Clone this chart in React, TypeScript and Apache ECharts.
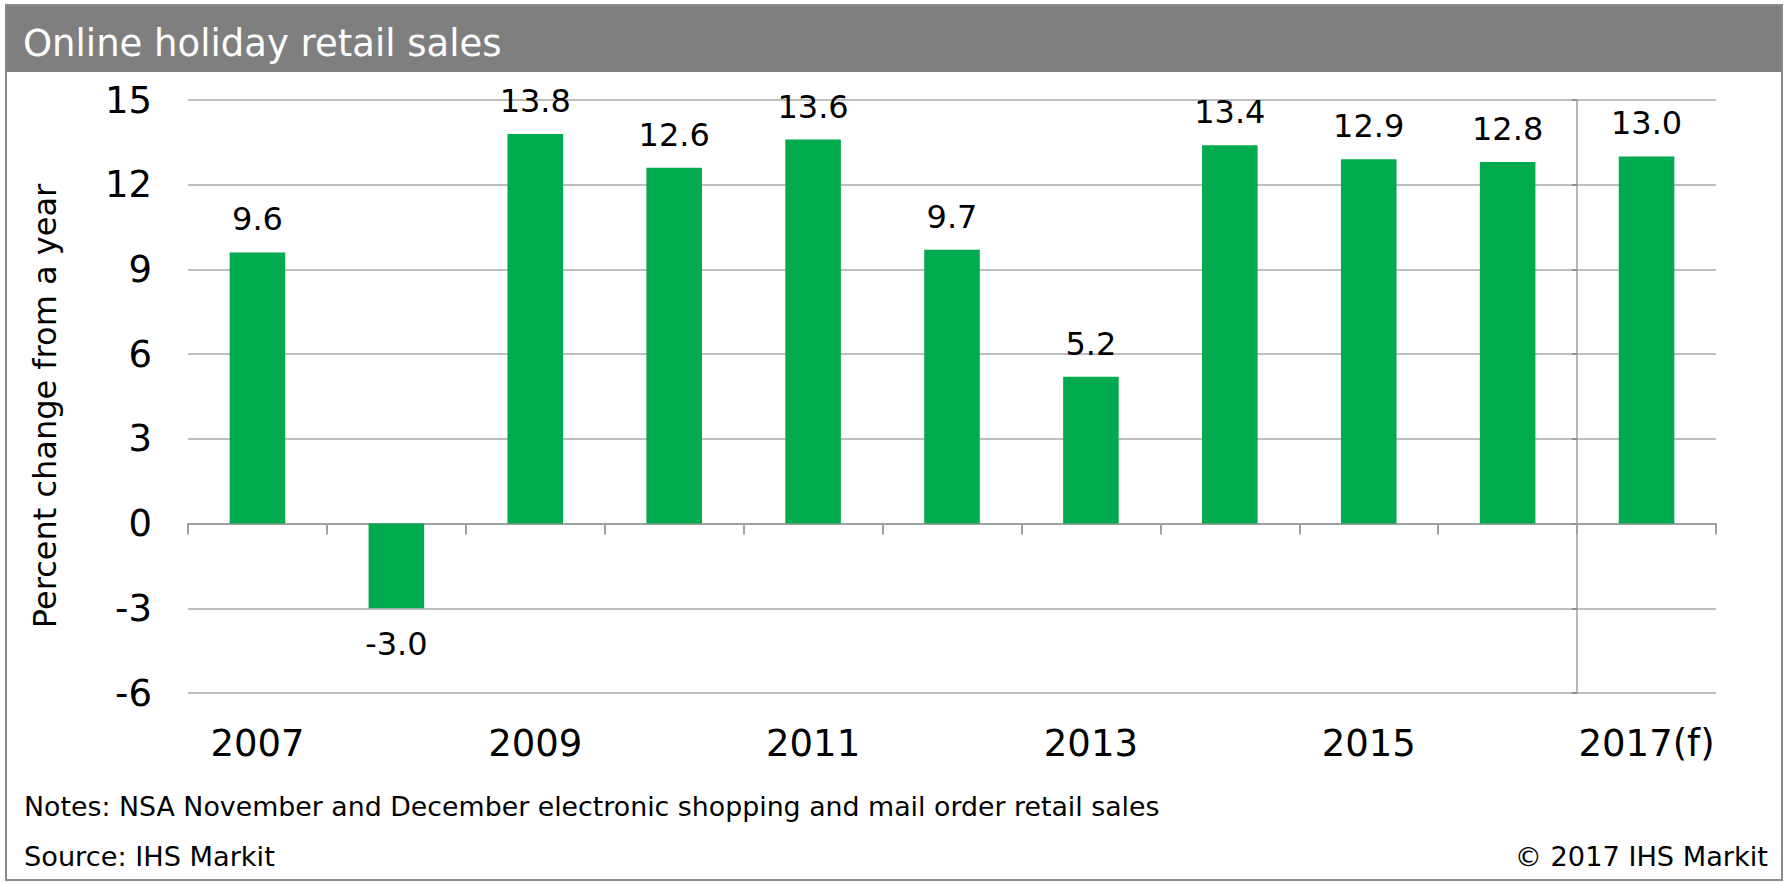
import React, { useEffect, useRef } from "react";
import * as echarts from "echarts";

const categories = ["2007", "2008", "2009", "2010", "2011", "2012", "2013", "2014", "2015", "2016", "2017(f)"];
const growth = [9.6, -3.0, 13.8, 12.6, 13.6, 9.7, 5.2, 13.4, 12.9, 12.8, 13.0];
const yMin = -6;
const yMax = 15;
const yStep = 3;

const titleText = "Online holiday retail sales";
const yAxisTitle = "Percent change from a year";
const notesText = "Notes: NSA November and December electronic shopping and mail order retail sales";
const sourceText = "Source: IHS Markit";
const copyrightText = "© 2017 IHS Markit";

const FONT = "'DejaVu Sans', Verdana, sans-serif";
const GREEN = "#00AA4E";
const GRID_GRAY = "#a8a8a8";

export default function App() {
  const ref = useRef<HTMLDivElement>(null);
  useEffect(() => {
    document.body.style.margin = "0";
    if (!ref.current) return;
    const chart = echarts.init(ref.current, undefined, { renderer: "svg" });
    const W = 1785;
    const gridLeft = 188;
    const gridRight = 69;
    const gridTop = 100;
    const gridBottom = 189;
    const plotW = W - gridLeft - gridRight;
    const catW = plotW / categories.length;

    const option: any = {
      animation: false,
      backgroundColor: "#ffffff",
      textStyle: { fontFamily: FONT },
      grid: {
        left: gridLeft,
        right: gridRight,
        top: gridTop,
        bottom: gridBottom,
        containLabel: false,
        outerBoundsMode: "none",
      },
      xAxis: [
        {
          type: "category",
          data: categories,
          axisLine: { show: true, onZero: true, lineStyle: { color: "#a0a0a0", width: 2 } },
          axisTick: { show: true, interval: 0, length: 11, lineStyle: { color: "#a0a0a0", width: 2 } },
          axisLabel: { show: false },
          splitLine: { show: false },
        },
        {
          type: "category",
          data: categories,
          position: "bottom",
          axisLine: { show: false, onZero: false },
          axisTick: { show: false },
          axisLabel: {
            show: true,
            interval: 1,
            margin: 32,
            fontSize: 37,
            color: "#000",
            fontFamily: FONT,
          },
          splitLine: { show: false },
        },
      ],
      yAxis: [
        {
          type: "value",
          min: yMin,
          max: yMax,
          interval: yStep,
          axisLine: { show: false },
          axisTick: { show: false },
          axisLabel: { fontSize: 37, color: "#000", margin: 36, fontFamily: FONT },
          splitLine: { show: true, lineStyle: { color: GRID_GRAY, width: 1.5 } },
        },
        {
          type: "value",
          min: yMin,
          max: yMax,
          interval: yStep,
          position: "right",
          offset: -catW,
          axisLine: { show: true, lineStyle: { color: "#a0a0a0", width: 1.5 } },
          axisTick: { show: true, inside: true, length: 5, lineStyle: { color: "#909090", width: 2 } },
          axisLabel: { show: false },
          splitLine: { show: false },
        },
      ],
      series: [
        {
          type: "bar",
          xAxisIndex: 0,
          yAxisIndex: 0,
          barWidth: "40%",
          itemStyle: { color: GREEN },
          data: growth.map((v) => ({
            value: v,
            label: v < 0 ? { position: "bottom", distance: 20 } : { position: "top", distance: 17 },
          })),
          label: {
            show: true,
            fontSize: 32,
            color: "#000",
            fontFamily: FONT,
            formatter: (p: any) => Number(p.value).toFixed(1),
          },
        },
      ],
      graphic: [
        {
          type: "rect",
          shape: { x: 6, y: 5, width: 1777, height: 67 },
          style: { fill: "#7f7f7f" },
          z: 10,
        },
        {
          type: "rect",
          shape: { x: 6, y: 5, width: 1776, height: 875 },
          style: { fill: "none", stroke: "#8a8a8a", lineWidth: 2 },
          z: 10,
        },
        {
          type: "text",
          x: 23,
          y: 43,
          style: {
            text: titleText,
            fill: "#ffffff",
            fontSize: 37,
            fontFamily: FONT,
            textAlign: "left",
            textVerticalAlign: "middle",
          },
          z: 11,
        },
        {
          type: "text",
          x: 45,
          y: 406,
          rotation: Math.PI / 2,
          style: {
            text: yAxisTitle,
            fill: "#000",
            fontSize: 32,
            fontFamily: FONT,
            textAlign: "center",
            textVerticalAlign: "middle",
          },
          z: 11,
        },
        {
          type: "text",
          x: 24,
          y: 806,
          style: {
            text: notesText,
            fill: "#000",
            fontSize: 26.8,
            fontFamily: FONT,
            textAlign: "left",
            textVerticalAlign: "middle",
          },
          z: 11,
        },
        {
          type: "text",
          x: 24,
          y: 856,
          style: {
            text: sourceText,
            fill: "#000",
            fontSize: 27.2,
            fontFamily: FONT,
            textAlign: "left",
            textVerticalAlign: "middle",
          },
          z: 11,
        },
        {
          type: "text",
          x: 1768,
          y: 856,
          style: {
            text: copyrightText,
            fill: "#000",
            fontSize: 27.2,
            fontFamily: FONT,
            textAlign: "right",
            textVerticalAlign: "middle",
          },
          z: 11,
        },
      ],
    };
    chart.setOption(option);
    return () => chart.dispose();
  }, []);
  return <div ref={ref} style={{ width: 1785, height: 882 }} />;
}
